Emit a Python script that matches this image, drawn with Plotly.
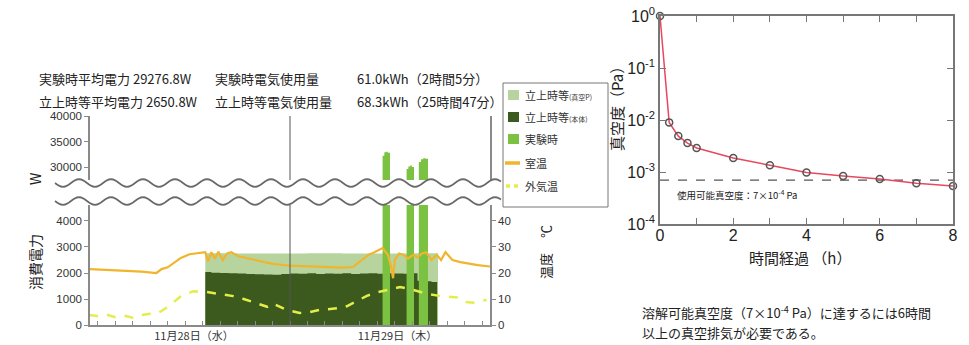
import numpy as np
import plotly.graph_objects as go

W, H = 969, 345
def px(x): return x / W
def py(y): return 1 - y / H

JP = "Noto Sans CJK JP"
NUM = "Liberation Sans"

# ---------------- data: left chart (hours from 0:00 on 11/28) ----------------
VAC_T = [14.3, 18.0, 22.0, 26.0, 30.0, 34.0, 38.0, 40.95]
VAC_W = [2760, 2750, 2750, 2760, 2750, 2750, 2760, 0]

BODY_T = [14.3, 15, 16, 17, 18, 19, 20, 21, 22, 23, 24, 25, 26, 27, 28, 29, 30,
          31, 32, 33, 34, 35, 36, 37, 38, 38.6, 39.5, 40.2, 40.85]
BODY_W = [2040, 2010, 2000, 1990, 1980, 1960, 1950, 1940, 1930, 1960, 1980, 1970,
          1990, 1960, 1980, 1970, 1990, 1960, 1980, 1990, 1970, 1990, 1980, 1970,
          1990, 1700, 1680, 1650, 0]

EXP_T = [34.6, 34.8, 35.0, 35.2, 35.45, 37.35, 37.55, 37.75, 37.95, 38.2,
         38.75, 39.0, 39.25, 39.5, 39.8]
EXP_W = [32200, 32900, 33000, 32800, 0, 29600, 30100, 30300, 30000, 0,
         31000, 31500, 31700, 31600, 0]

ROOM_T = [1, 3, 5, 7, 8.7, 9.3, 10, 10.8, 11.5, 12.5, 13.5, 14.3, 14.6, 15.0, 15.4,
          15.8, 16.3, 16.8, 17.3, 18, 20, 22, 24, 26, 28, 30, 31.2, 32, 33, 33.5,
          34.6, 35.2, 35.6, 35.8, 36.0, 36.5, 37, 37.5, 38.1, 38.6, 39.1, 39.6,
          40.2, 40.8, 41.3, 41.8, 42.6, 43.5, 44.5, 45.5, 46.9]
ROOM_C = [21.5, 21.2, 20.9, 20.5, 20.0, 21.5, 22.2, 24.0, 25.8, 27.2, 27.8, 28.0,
          24.5, 28.0, 25.5, 28.2, 25.0, 27.5, 28.0, 26.5, 25.0, 23.5, 22.8, 22.5,
          22.3, 22.1, 22.3, 24.5, 27.0, 27.7, 29.6, 27.0, 22.0, 18.0, 25.0, 27.5,
          27.0, 25.5, 27.0, 26.0, 27.5, 28.0, 25.0, 27.0, 25.0, 28.0, 25.0, 24.2,
          23.5, 23.0, 22.5]

OUT_T = [1, 2, 3, 4, 5, 6, 7, 8, 8.8, 10, 11.4, 12.9, 14.5, 16, 17.5, 18.7, 19.8,
         20.6, 21.4, 22, 22.6, 23.6, 25.1, 26.3, 27.4, 28.6, 29.7, 30.5, 31.2, 32,
         32.8, 34, 35.1, 36.6, 38.1, 39.7, 41.1, 42.6, 43.4, 44.2, 45, 45.7, 46.5]
OUT_C = [3.8, 3.5, 4.0, 3.0, 3.6, 2.8, 3.8, 4.3, 4.4, 6.9, 10.8, 13.0, 12.7, 12.0,
         11.1, 10.0, 8.8, 8.0, 7.0, 8.3, 7.4, 5.8, 4.6, 5.0, 5.8, 6.2, 6.5, 7.2, 8.4,
         9.8, 11.2, 12.6, 13.5, 14.6, 13.5, 12.0, 11.2, 10.8, 10.5, 8.8, 8.6, 9.2, 9.6]

MIDNIGHT = 24
DATE_TICKS = [13.0, 36.3]
DATE_LABELS = ["11月28日（水）", "11月29日（木）"]
LOW_TICKS = [0, 1000, 2000, 3000, 4000]
HIGH_TICKS = [30000, 35000, 40000]
TEMP_TICKS = [0, 10, 20, 30, 40]
LEGEND_NAMES = ["立上時等<span style='font-size:7px'>(真空P)</span>",
                "立上時等<span style='font-size:7px'>(本体)</span>",
                "実験時", "室温", "外気温"]

# ---------------- data: right chart ----------------
HOURS = [0, 0.25, 0.5, 0.75, 1, 2, 3, 4, 5, 6, 7, 8]
PRESSURE = [1.0, 9.0e-3, 4.9e-3, 3.6e-3, 2.9e-3, 1.86e-3, 1.35e-3, 9.8e-4,
            8.4e-4, 7.3e-4, 6.1e-4, 5.4e-4]
USABLE = 7e-4
R_XTICKS = [0, 1, 2, 3, 4, 5, 6, 7, 8]
R_XLABELS = ["0", "", "2", "", "4", "", "6", "", "8"]
R_YTICKS = [1e-4, 1e-3, 1e-2, 1e-1, 1e0]
R_YLABELS = ["10<sup>-4</sup>", "10<sup>-3</sup>", "10<sup>-2</sup>",
             "10<sup>-1</sup>", "10<sup>0</sup>"]

C_LIGHT = "#b7d49f"
C_DARK = "#3c5a1e"
C_EXP = "#7cc242"
C_ROOM = "#f0b52c"
C_OUT = "#e4ee4a"

fig = go.Figure()

fig.add_trace(go.Scatter(x=VAC_T, y=VAC_W, mode="lines", line=dict(shape="hv", width=0, color=C_LIGHT),
                         fill="tozeroy", fillcolor=C_LIGHT, xaxis="x", yaxis="y",
                         name=LEGEND_NAMES[0]))
fig.add_trace(go.Scatter(x=BODY_T, y=BODY_W, mode="lines", line=dict(shape="hv", width=0, color=C_DARK),
                         fill="tozeroy", fillcolor=C_DARK, xaxis="x", yaxis="y",
                         name=LEGEND_NAMES[1]))
fig.add_trace(go.Scatter(x=EXP_T, y=EXP_W, mode="lines", line=dict(shape="hv", width=0, color=C_EXP),
                         fill="tozeroy", fillcolor=C_EXP, xaxis="x", yaxis="y",
                         name=LEGEND_NAMES[2]))
fig.add_trace(go.Scatter(x=EXP_T, y=EXP_W, mode="lines", line=dict(shape="hv", width=0, color=C_EXP),
                         fill="tozeroy", fillcolor=C_EXP, xaxis="x", yaxis="y2",
                         name=LEGEND_NAMES[2]))
fig.add_trace(go.Scatter(x=ROOM_T, y=ROOM_C, mode="lines", line=dict(color=C_ROOM, width=2.2),
                         xaxis="x", yaxis="y3", name=LEGEND_NAMES[3]))
fig.add_trace(go.Scatter(x=OUT_T, y=OUT_C, mode="lines", line=dict(color=C_OUT, width=2.5, dash="dash"),
                         xaxis="x", yaxis="y3", name=LEGEND_NAMES[4]))

# right chart
fig.add_trace(go.Scatter(x=[R_XTICKS[0], R_XTICKS[-1]], y=[USABLE, USABLE], mode="lines",
                         line=dict(color="#555", width=1.3, dash="dash"),
                         xaxis="x2", yaxis="y4"))
fig.add_trace(go.Scatter(x=HOURS, y=PRESSURE, mode="lines+markers",
                         line=dict(color="#e8485e", width=1.5),
                         marker=dict(symbol="circle", size=7, color="rgba(255,255,255,0)",
                                     line=dict(color="#555", width=1.5)),
                         cliponaxis=False, xaxis="x2", yaxis="y4"))

axcol = "#8a8a8a"
tickfont = dict(family=NUM, size=11.5, color="#333")

fig.update_layout(
    width=W, height=H, margin=dict(l=0, r=0, t=0, b=0, autoexpand=False),
    paper_bgcolor="white", plot_bgcolor="rgba(0,0,0,0)", showlegend=False,
    xaxis=dict(domain=[px(90), px(490)], range=[1.1, 46.9], showline=True, linecolor=axcol,
               linewidth=1.5, tickvals=DATE_TICKS, ticktext=DATE_LABELS, ticks="",
               tickfont=dict(family=JP, size=11, color="#333"), showgrid=False, zeroline=False,
               minor=dict(ticks="inside", dtick=2, tick0=0, ticklen=4, tickcolor=axcol)),
    yaxis=dict(domain=[py(325), py(205)], range=[0, 4615], showline=True, linecolor=axcol,
               linewidth=1.5, tickvals=LOW_TICKS, ticktext=[str(v) for v in LOW_TICKS],
               ticks="outside", ticklen=4, tickcolor=axcol,
               tickfont=tickfont, showgrid=False, zeroline=False),
    yaxis2=dict(domain=[py(180), py(116)], range=[27450, 40000], showline=True, linecolor=axcol,
                linewidth=1.5, mirror=True, tickvals=HIGH_TICKS,
                ticktext=[str(v) for v in HIGH_TICKS], ticks="outside", ticklen=4,
                tickcolor=axcol, tickfont=tickfont, showgrid=False, zeroline=False, anchor="x"),
    yaxis3=dict(overlaying="y", side="right", range=[0, 46.15], showline=True, linecolor=axcol,
                linewidth=1.5, tickvals=TEMP_TICKS, ticks="outside", ticklen=4, tickcolor=axcol,
                tickfont=tickfont, showgrid=False, zeroline=False, anchor="x"),
    xaxis2=dict(domain=[px(660), px(953)], range=[0, 8], anchor="y4", showline=True,
                linecolor="#777", linewidth=1.5, mirror="ticks", tickvals=R_XTICKS,
                ticktext=R_XLABELS, ticks="inside", ticklen=6, tickcolor="#777",
                ticklabelstandoff=-4,
                tickfont=dict(family=NUM, size=16, color="#222"), showgrid=False, zeroline=False),
    yaxis4=dict(domain=[py(224), py(16)], type="log", range=[-4, 0], anchor="x2", showline=True,
                linecolor="#777", linewidth=1.5, mirror="ticks", tickvals=R_YTICKS,
                ticktext=R_YLABELS, ticks="inside", ticklen=6, tickcolor="#777",
                tickfont=dict(family=NUM, size=16, color="#222"), showgrid=False, zeroline=False),
)

# midnight line in both panels
for yr in ["y domain", "y2 domain"]:
    fig.add_shape(type="line", xref="x", yref=yr, x0=MIDNIGHT, x1=MIDNIGHT, y0=0, y1=1,
                  line=dict(color="#555", width=1))

# axis-break wavy lines (decoration)
xs = np.arange(55, 502, 2.0)
for yc in (183, 201):
    ys = yc + 3.8 * np.sin(2 * np.pi * (xs - 55) / 32.0)
    path = "M " + " L ".join(f"{px(a):.5f},{py(b):.5f}" for a, b in zip(xs, ys))
    fig.add_shape(type="path", path=path, xref="paper", yref="paper",
                  line=dict(color="#6a6a6a", width=1.8))

# legend box (drawn manually to match the compact original)
fig.add_shape(type="rect", xref="paper", yref="paper", x0=px(503), x1=px(608), y0=py(207), y1=py(83),
              fillcolor="white", line=dict(color="#777", width=1))
leg_y = [95, 117, 139, 163, 186]
for col, yy in zip([C_LIGHT, C_DARK, C_EXP], leg_y[:3]):
    fig.add_shape(type="rect", xref="paper", yref="paper", x0=px(508), x1=px(519),
                  y0=py(yy + 5), y1=py(yy - 5), fillcolor=col, line=dict(width=0))
fig.add_shape(type="line", xref="paper", yref="paper", x0=px(505), x1=px(520), y0=py(leg_y[3]),
              y1=py(leg_y[3]), line=dict(color=C_ROOM, width=3.5))
for xx in (506, 514):
    fig.add_shape(type="line", xref="paper", yref="paper", x0=px(xx), x1=px(xx + 4),
                  y0=py(leg_y[4]), y1=py(leg_y[4]), line=dict(color=C_OUT, width=3.5))

ann = []
def A(x, y, text, size=13, angle=0, xanchor="left", family=JP, color="#222"):
    ann.append(dict(x=px(x), y=py(y), xref="paper", yref="paper", text=text, showarrow=False,
                    font=dict(family=family, size=size, color=color), textangle=angle,
                    xanchor=xanchor, yanchor="middle"))

for name, yy in zip(LEGEND_NAMES, leg_y):
    A(523, yy, name, size=11, color="#333")

A(37, 78, "実験時平均電力 29276.8W")
A(213, 78, "実験時電気使用量")
A(355, 78, "61.0kWh（2時間5分）")
A(37, 101, "立上時等平均電力 2650.8W")
A(213, 101, "立上時等電気使用量")
A(355, 101, "68.3kWh（25時間47分）")
A(35, 262, "消費電力", size=14, angle=-90, xanchor="center")
A(35, 179, "W", size=14, angle=-90, xanchor="center")
A(545, 266, "温度", size=13, angle=-90, xanchor="center")
A(545, 232, "℃", size=13, angle=-90, xanchor="center")

A(616, 105, "真空度（Pa）", size=15, angle=-90, xanchor="center")
A(800, 257, "時間経過 （h）", size=15, xanchor="center")
A(675, 194, "使用可能真空度：7×10<sup>-4</sup> Pa", size=9.5)
A(640, 312, "溶解可能真空度（7×10<sup>-4</sup> Pa）に達するには6時間", size=13)
A(640, 332, "以上の真空排気が必要である。", size=13)

fig.update_layout(annotations=ann)
fig.write_html("out.html", config={"displayModeBar": False},
               post_script="document.body.style.margin='0';document.body.style.padding='0';"
                           "document.body.style.overflow='hidden';")
